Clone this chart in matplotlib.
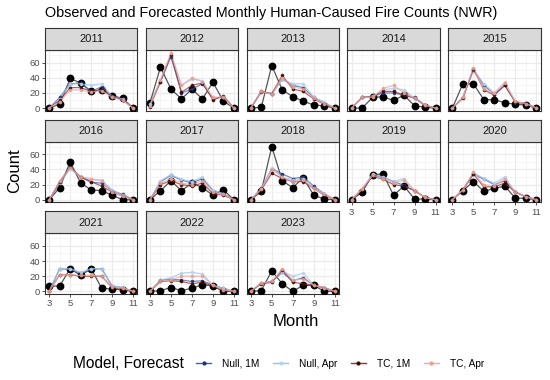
import matplotlib
matplotlib.use('Agg')
import matplotlib.pyplot as plt
from matplotlib.lines import Line2D

plt.rcParams['font.family'] = ['Liberation Sans', 'DejaVu Sans']

years = [2011, 2012, 2013, 2014, 2015, 2016, 2017, 2018, 2019, 2020, 2021, 2022, 2023]
months = [3, 4, 5, 6, 7, 8, 9, 10, 11]

observed = [
    [0, 5, 39, 33, 22, 24, 16, 13, 0],
    [7, 54, 25, 12, 25, 12, 34, 9, 0],
    [0, 1, 56, 24, 15, 9, 4, 3, 0],
    [0, 0, 14, 15, 10, 17, 3, 1, 0],
    [0, 32, 32, 11, 11, 7, 5, 4, 0],
    [0, 16, 50, 22, 13, 12, 6, 0, 0],
    [0, 12, 25, 12, 22, 16, 6, 13, 0],
    [0, 11, 70, 25, 16, 29, 6, 1, 0],
    [0, 10, 33, 34, 6, 18, 1, 1, 0],
    [0, 12, 24, 11, 15, 18, 2, 2, 0],
    [7, 7, 30, 21, 30, 4, 3, 2, 0],
    [0, 1, 5, 1, 4, 9, 7, 0, 0],
    [0, 1, 27, 10, 0, 8, 8, 0, 0],
]
null_1m = [
    [0, 14, 32, 33, 22, 28, 16, 12, 0],
    [5, 35, 68, 20, 25, 32, 12, 15, 0],
    [0, 21, 19, 38, 30, 27, 14, 7, 0],
    [0, 14, 15, 20, 20, 17, 14, 4, 0],
    [0, 14, 50, 30, 18, 30, 8, 6, 0],
    [0, 22, 42, 30, 23, 22, 12, 7, 0],
    [0, 24, 32, 26, 22, 28, 12, 8, 0],
    [0, 15, 41, 34, 28, 30, 18, 8, 0],
    [0, 14, 32, 30, 24, 19, 12, 3, 0],
    [0, 13, 34, 27, 20, 25, 10, 4, 0],
    [0, 30, 29, 24, 29, 30, 7, 5, 0],
    [0, 15, 16, 15, 13, 14, 8, 4, 0],
    [0, 11, 13, 25, 14, 18, 8, 4, 0],
]
null_apr = [
    [0, 12, 32, 32, 30, 32, 15, 12, 0],
    [5, 36, 70, 30, 38, 36, 13, 14, 0],
    [0, 22, 18, 38, 32, 32, 14, 8, 0],
    [0, 14, 16, 24, 26, 24, 13, 4, 0],
    [0, 14, 51, 32, 20, 34, 8, 6, 0],
    [0, 22, 41, 30, 26, 26, 13, 6, 0],
    [0, 25, 33, 27, 24, 30, 13, 8, 0],
    [0, 14, 42, 30, 26, 28, 16, 8, 0],
    [0, 14, 34, 30, 24, 28, 12, 3, 0],
    [0, 13, 36, 28, 22, 30, 10, 4, 0],
    [0, 30, 30, 25, 30, 30, 7, 5, 0],
    [0, 15, 18, 24, 25, 23, 8, 4, 0],
    [0, 11, 12, 26, 20, 24, 8, 4, 0],
]
tc_1m = [
    [0, 10, 27, 27, 22, 24, 15, 11, 0],
    [2, 35, 70, 21, 30, 33, 11, 16, 0],
    [0, 22, 19, 43, 25, 22, 12, 5, 0],
    [0, 14, 15, 22, 22, 17, 13, 3, 0],
    [0, 13, 52, 24, 17, 30, 8, 6, 0],
    [0, 24, 43, 30, 24, 18, 10, 5, 0],
    [0, 20, 25, 20, 18, 22, 8, 6, 0],
    [0, 13, 35, 28, 24, 24, 15, 6, 0],
    [0, 13, 31, 27, 20, 18, 12, 3, 0],
    [0, 13, 34, 17, 17, 22, 10, 4, 0],
    [0, 22, 22, 20, 20, 20, 5, 3, 0],
    [0, 13, 14, 13, 10, 12, 7, 1, 0],
    [0, 10, 12, 28, 12, 10, 8, 5, 0],
]
tc_apr = [
    [0, 8, 24, 24, 21, 23, 14, 10, 0],
    [3, 37, 73, 30, 40, 35, 14, 15, 0],
    [0, 22, 18, 40, 28, 25, 13, 6, 0],
    [0, 14, 14, 26, 30, 20, 13, 4, 0],
    [0, 14, 53, 25, 20, 33, 9, 6, 0],
    [0, 25, 42, 30, 28, 25, 10, 5, 0],
    [0, 22, 28, 22, 20, 25, 10, 7, 0],
    [0, 14, 40, 30, 24, 26, 15, 7, 0],
    [0, 14, 32, 28, 22, 26, 12, 3, 0],
    [0, 13, 36, 20, 18, 28, 10, 4, 0],
    [0, 22, 22, 21, 21, 20, 6, 4, 0],
    [0, 14, 15, 20, 20, 20, 8, 2, 0],
    [0, 11, 13, 30, 15, 16, 8, 5, 0],
]

series_labels = ['Null, 1M', 'Null, Apr', 'TC, 1M', 'TC, Apr']
series_data = [null_1m, null_apr, tc_1m, tc_apr]
line_colors = ['#3e63b0', '#9cc3e6', '#a0302a', '#f0a8a8']
point_colors = ['#1f2f78', '#b8d4ee', '#3b0a05', '#e8a090']
x_ticks = [3, 5, 7, 9, 11]
y_ticks = [0, 20, 40, 60]

W, H = 550, 380
fig = plt.figure(figsize=(W / 100, H / 100), dpi=100)

col_x = [45 + i * 100.8 for i in range(5)]
row_top = [50, 141.7, 233.3]
pw, ph = 92.3, 60.7
sh = 22

def px_axes(x, y, w, h):
    return fig.add_axes([x / W, 1 - (y + h) / H, w / W, h / H])

ncol = 5
n = len(years)
for i, yr in enumerate(years):
    r, c = divmod(i, ncol)
    x0 = col_x[c]
    y0 = row_top[r]
    ax = px_axes(x0, y0, pw, ph)
    ax.set_facecolor('white')
    ax.set_xlim(2.6, 11.4)
    ax.set_ylim(-3.5, 76.6)
    ax.set_xticks(x_ticks)
    ax.set_yticks(y_ticks)
    ax.set_xticks([4, 6, 8, 10], minor=True)
    ax.set_yticks([10, 30, 50, 70], minor=True)
    ax.grid(True, which='major', color='#ebebeb', lw=0.9)
    ax.grid(True, which='minor', color='#f2f2f2', lw=0.5)
    ax.set_axisbelow(True)
    for sp in ax.spines.values():
        sp.set_color('#333333')
        sp.set_linewidth(0.8)
    ax.tick_params(which='minor', length=0)
    ax.tick_params(which='major', length=2.2, width=0.6, color='#333333',
                   labelsize=6.8, labelcolor='#4d4d4d', pad=1.5)
    if c != 0:
        ax.tick_params(axis='y', length=0, labelleft=False)
    if i + ncol < n:
        ax.tick_params(axis='x', length=0, labelbottom=False)

    ax.plot(months, observed[i], color='#555555', lw=0.9, zorder=2)
    ax.plot(months, observed[i], 'o', color='black', ms=4.6, zorder=3)
    for k in range(4):
        vals = series_data[k][i]
        ax.plot(months, vals, color=line_colors[k], lw=0.9, alpha=0.75, zorder=4)
        ax.plot(months, vals, 'o', color=point_colors[k], ms=1.6, alpha=0.85, zorder=5)

    sax = px_axes(x0, y0 - sh, pw, sh)
    sax.set_facecolor('#d9d9d9')
    sax.set_xticks([])
    sax.set_yticks([])
    for sp in sax.spines.values():
        sp.set_color('#333333')
        sp.set_linewidth(0.8)
    sax.text(0.5, 0.48, str(yr), ha='center', va='center', fontsize=8,
             color='#1a1a1a', transform=sax.transAxes)

fig.text(45 / W, 1 - 13 / H, 'Observed and Forecasted Monthly Human-Caused Fire Counts (NWR)',
         fontsize=10.4, ha='left', va='center', color='black')
fig.text(296 / W, 1 - 322 / H, 'Month', fontsize=12, ha='center', va='center')
fig.text(15 / W, 1 - 171 / H, 'Count', fontsize=12, ha='center', va='center', rotation=90)

fig.text(73 / W, 1 - 364 / H, 'Model, Forecast', fontsize=11.2, ha='left', va='center')
handles = [Line2D([0], [0], color=line_colors[k], lw=1.0, marker='o', ms=2,
                  markerfacecolor=point_colors[k], markeredgecolor=point_colors[k])
           for k in range(4)]
fig.legend(handles, series_labels, loc='center left', bbox_to_anchor=(196 / W, 1 - 364 / H),
           ncol=4, frameon=False, fontsize=7.3, handlelength=1.5, handletextpad=1.1,
           columnspacing=1.3, borderaxespad=0, borderpad=0)

fig.savefig('out.png', dpi=100, facecolor='white')
